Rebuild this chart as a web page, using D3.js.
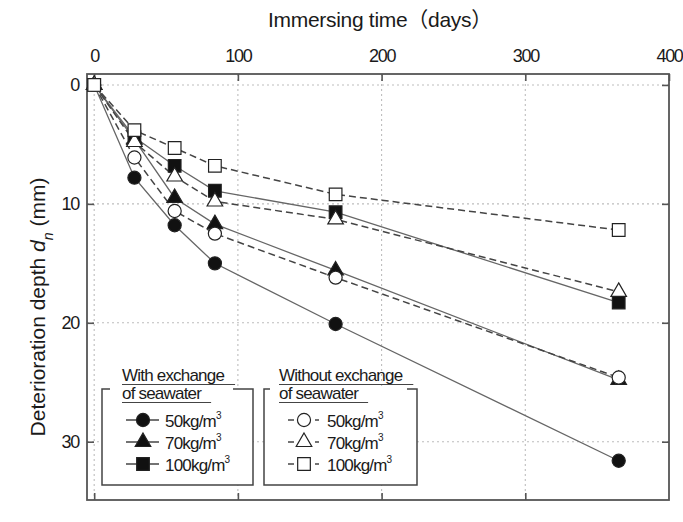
<!DOCTYPE html>
<html>
<head>
<meta charset="utf-8">
<script src="https://cdn.jsdelivr.net/npm/d3@7"></script>
<style>
  body { margin: 0; background: #fff; }
  svg text { font-family: "Liberation Sans", Arial, "Noto Sans CJK SC", sans-serif; fill: #1a1a1a; }
</style>
</head>
<body>
<svg id="chart" width="683" height="522"></svg>
<script>
// immersing time (days)
const days = [0, 28, 56, 84, 168, 365];

// deterioration depth (mm), with exchange of seawater
const with50 = [0, 7.8, 11.8, 15.0, 20.1, 31.6];
const with70 = [0, 4.6, 9.5, 11.7, 15.6, 24.8];
const with100 = [0, 4.4, 6.8, 8.9, 10.7, 18.3];

// without exchange of seawater
const without50 = [0, 6.1, 10.6, 12.5, 16.2, 24.6];
const without70 = [0, 4.8, 7.7, 9.8, 11.3, 17.4];
const without100 = [0, 3.8, 5.3, 6.8, 9.2, 12.2];

const xTicks = [0, 100, 200, 300, 400];
const yTicks = [0, 10, 20, 30];

const series = [
  { name: "50kg/m", values: with50, shape: "circle", filled: true },
  { name: "70kg/m", values: with70, shape: "triangle", filled: true },
  { name: "100kg/m", values: with100, shape: "square", filled: true },
  { name: "50kg/m", values: without50, shape: "circle", filled: false },
  { name: "70kg/m", values: without70, shape: "triangle", filled: false },
  { name: "100kg/m", values: without100, shape: "square", filled: false }
];

const pL = 87, pR = 669, pT = 74, pB = 500;

const svg = d3.select("#chart");

let x = d3.scaleLinear().domain([-5, 400]).range([pL, pR]);
let y = d3.scaleLinear().domain([-0.92, 34.9]).range([pT, pB]);

const symbolType = { circle: d3.symbolCircle, triangle: d3.symbolTriangle, square: d3.symbolSquare };
const symbolSize = { circle: 135, triangle: 105, square: 160 };
function marker(shape) {
  return d3.symbol().type(symbolType[shape]).size(symbolSize[shape])();
}

// grid
const grid = svg.append("g").attr("stroke", "#bdbdbd").attr("stroke-width", 1.1).attr("stroke-dasharray", "2,3");
grid.selectAll(".gx").data(xTicks.slice(0, 4)).enter().append("line")
  .attr("x1", d => x(d)).attr("x2", d => x(d)).attr("y1", pT).attr("y2", pB);
grid.selectAll(".gy").data(yTicks).enter().append("line")
  .attr("y1", d => y(d)).attr("y2", d => y(d)).attr("x1", pL).attr("x2", pR);

// axes
function styleAxis(g) {
  g.select(".domain").remove();
  g.selectAll(".tick line").attr("stroke", "#555").attr("stroke-width", 1.6);
  g.selectAll("text").style("font-size", "18px").style("letter-spacing", "-1.3px").attr("fill", "#1a1a1a");
}
svg.append("g").attr("transform", "translate(0," + pT + ")")
  .call(d3.axisTop(x).tickValues(xTicks).tickSizeInner(-7).tickSizeOuter(0).tickPadding(12))
  .call(styleAxis);
svg.append("g").attr("transform", "translate(0," + pB + ")")
  .call(d3.axisBottom(x).tickValues(xTicks.slice(0, 4)).tickSizeInner(-7).tickSizeOuter(0).tickFormat(""))
  .call(styleAxis);
svg.append("g").attr("transform", "translate(" + pL + ",0)")
  .call(d3.axisLeft(y).tickValues(yTicks).tickSizeInner(-7).tickSizeOuter(0).tickPadding(8))
  .call(styleAxis);
svg.append("g").attr("transform", "translate(" + pR + ",0)")
  .call(d3.axisRight(y).tickValues(yTicks).tickSizeInner(-7).tickSizeOuter(0).tickFormat(""))
  .call(styleAxis);

// frame
svg.append("rect").attr("x", pL).attr("y", pT).attr("width", pR - pL).attr("height", pB - pT)
  .attr("fill", "none").attr("stroke", "#555").attr("stroke-width", 1.8);

// axis titles
svg.append("text").attr("x", 268).attr("y", 27)
  .style("font-size", "21px").style("letter-spacing", "-0.3px").text("Immersing time（days）");

const yl = svg.append("text").attr("transform", "translate(45,307) rotate(-90)").attr("text-anchor", "middle")
  .style("font-size", "21px");
yl.append("tspan").text("Deterioration depth ");
yl.append("tspan").style("font-style", "italic").text("d");
yl.append("tspan").attr("baseline-shift", "sub").style("font-size", "14px").style("font-style", "italic").text("n");
yl.append("tspan").text(" (mm)");

// lines
const line = d3.line().x((d, i) => x(days[i])).y(d => y(d));
const lines = svg.append("g").attr("fill", "none");
series.forEach(s => {
  lines.append("path").datum(s.values).attr("d", line)
    .attr("stroke", s.filled ? "#666" : "#444")
    .attr("stroke-width", s.filled ? 1.3 : 1.5)
    .attr("stroke-dasharray", s.filled ? null : "7,4");
});

// markers
series.forEach(s => {
  svg.append("g").selectAll("path").data(s.values).enter().append("path")
    .attr("transform", (d, i) => "translate(" + x(days[i]) + "," + y(d) + ")")
    .attr("d", marker(s.shape))
    .attr("fill", s.filled ? "#111" : "#fff")
    .attr("stroke", "#222").attr("stroke-width", 1.2);
});

// legends
function legendBox(bx, bw, gapL, gapR, title1, title2, items, filled) {
  const g = svg.append("g");
  const by = 389, bh = 96;
  g.append("path")
    .attr("d", "M" + (bx + gapL) + "," + by + "H" + bx + "V" + (by + bh) + "H" + (bx + bw) + "V" + by + "H" + (bx + bw - gapR))
    .attr("fill", "#fff").attr("stroke", "#444").attr("stroke-width", 1.5);
  const tx = bx + (filled ? 20 : 15);
  const t1 = g.append("text").attr("x", tx).attr("y", 381).style("font-size", "17px").style("letter-spacing", "-0.8px").text(title1);
  const t2 = g.append("text").attr("x", tx).attr("y", 399).style("font-size", "17px").style("letter-spacing", "-0.8px").text(title2);
  const w1 = t1.node().getComputedTextLength(), w2 = t2.node().getComputedTextLength();
  g.append("line").attr("x1", tx).attr("x2", tx + w1 + 11).attr("y1", 384.5).attr("y2", 384.5).attr("stroke", "#444").attr("stroke-width", 1.2);
  g.append("line").attr("x1", tx).attr("x2", tx + w2 + 10).attr("y1", 402.5).attr("y2", 402.5).attr("stroke", "#444").attr("stroke-width", 1.2);
  items.forEach((s, i) => {
    const cy = 420 + i * 22;
    const mx = filled ? bx + 41 : bx + 40;
    if (filled) {
      g.append("line").attr("x1", mx - 17).attr("x2", mx + 16).attr("y1", cy).attr("y2", cy).attr("stroke", "#444").attr("stroke-width", 1.3);
    } else {
      g.append("line").attr("x1", mx - 16).attr("x2", mx - 10).attr("y1", cy).attr("y2", cy).attr("stroke", "#444").attr("stroke-width", 1.5);
      g.append("line").attr("x1", mx + 11).attr("x2", mx + 15).attr("y1", cy).attr("y2", cy).attr("stroke", "#444").attr("stroke-width", 1.5);
    }
    g.append("path").attr("transform", "translate(" + mx + "," + cy + ")").attr("d", marker(s.shape))
      .attr("fill", filled ? "#111" : "#fff").attr("stroke", "#222").attr("stroke-width", 1.2);
    const lt = g.append("text").attr("x", filled ? mx + 22 : mx + 23).attr("y", cy + 6.5)
      .style("font-size", "17px").style("letter-spacing", "-0.8px");
    lt.append("tspan").text(s.name);
    lt.append("tspan").attr("dy", -8).style("font-size", "10px").text("3");
  });
}
legendBox(102, 151, 8, 20, "With exchange", "of seawater", series.slice(0, 3), true);
legendBox(264, 153, 6, 10, "Without exchange", "of seawater", series.slice(3), false);
</script>
</body>
</html>
